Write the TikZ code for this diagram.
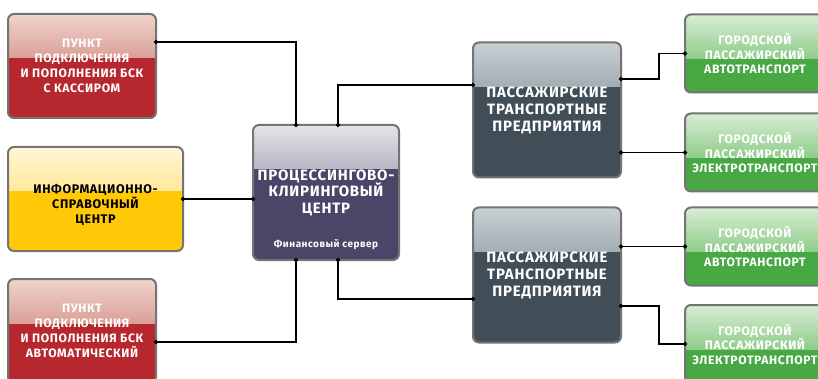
\documentclass[tikz,border=0pt]{standalone}
\usepackage{fontspec}
\setmainfont{Fira Sans}
\newfontfamily\bx{Fira Sans Bold}[LetterSpace=5]
\usetikzlibrary{arrows.meta,calc}
\definecolor{bordergray}{HTML}{747474}
\definecolor{redtop}{HTML}{EFD4CC}\definecolor{redmid}{HTML}{BE5850}\definecolor{redbase}{HTML}{B7272E}
\definecolor{yeltop}{HTML}{FFF6D6}\definecolor{yelmid}{HTML}{FFD546}\definecolor{yelbase}{HTML}{FFC907}
\definecolor{cbtop}{HTML}{E4E4EA}\definecolor{cbmid}{HTML}{5A5676}\definecolor{cbbase}{HTML}{4B4668}
\definecolor{pttop}{HTML}{C8D0D4}\definecolor{ptmid}{HTML}{56646C}\definecolor{ptbase}{HTML}{414E57}
\definecolor{grtop}{HTML}{D8EDD4}\definecolor{grmid}{HTML}{57B251}\definecolor{grbase}{HTML}{48A844}
\tikzset{
  gloss/.style n args={3}{draw=bordergray, line width=2pt, rounded corners=6pt,
    inner sep=0pt, outer sep=0pt, align=center, fill=#3,
    path picture={\shade[sharp corners, top color=#1, bottom color=#2]
      (path picture bounding box.north west) rectangle
      ([yshift=-44pt]path picture bounding box.north east);}},
  redbox/.style={gloss={redtop}{redmid}{redbase}, text=white,
    font=\bx\fontsize{12.2}{15}\selectfont, minimum width=148pt, minimum height=104pt},
  yelbox/.style={gloss={yeltop}{yelmid}{yelbase}, minimum width=175pt, minimum height=104pt},
  cbox/.style={gloss={cbtop}{cbmid}{cbbase}, text=white,
    font=\bx\fontsize{15}{16.5}\selectfont, minimum width=146pt, minimum height=135pt},
  ptbox/.style={gloss={pttop}{ptmid}{ptbase}, text=white,
    font=\bx\fontsize{15}{17}\selectfont, minimum width=148pt, minimum height=135pt},
  grbox/.style={gloss={grtop}{grmid}{grbase}, text=white,
    font=\bx\fontsize{12.2}{14.5}\selectfont, minimum width=140pt, minimum height=78pt},
  txt/.style={inner sep=0pt, align=center},
  link/.style={line width=1.3pt, {Circle[length=4pt]}-{Circle[length=4pt]},
    shorten <=-2pt, shorten >=-2pt},
}
\begin{document}
\begin{tikzpicture}[x=1pt,y=-1pt]
\path[use as bounding box, clip] (0,0) rectangle (818,379);
\fill[white] (0,0) rectangle (818,379);
% boxes
\node[redbox] (r1) at (82,66) {ПУНКТ\\ПОДКЛЮЧЕНИЯ\\И ПОПОЛНЕНИЯ БСК\\С КАССИРОМ};
\node[yelbox] (y1) at (95.5,199) {};
\node[txt, text=black, font=\bx\fontsize{12.5}{15}\selectfont] (y1t) at (95.5,205)
  {ИНФОРМАЦИОННО-\\СПРАВОЧНЫЙ\\ЦЕНТР};
\node[redbox] (r2) at (82,331) {ПУНКТ\\ПОДКЛЮЧЕНИЯ\\И ПОПОЛНЕНИЯ БСК\\АВТОМАТИЧЕСКИЙ};
\node[cbox] (c) at (326,192.5) {ПРОЦЕССИНГОВО-\\КЛИРИНГОВЫЙ\\ЦЕНТР};
\node[txt, text=white, font=\bx\fontsize{10}{11}\selectfont] (csub) at (326,245) {Финансовый сервер};
\node[ptbox] (p1) at (547,110) {ПАССАЖИРСКИЕ\\ТРАНСПОРТНЫЕ\\ПРЕДПРИЯТИЯ};
\node[ptbox] (p2) at (547,275) {ПАССАЖИРСКИЕ\\ТРАНСПОРТНЫЕ\\ПРЕДПРИЯТИЯ};
\node[grbox] (g1) at (755,53.5) {ГОРОДСКОЙ\\ПАССАЖИРСКИЙ\\АВТОТРАНСПОРТ};
\node[grbox] (g2) at (755,152.5) {ГОРОДСКОЙ\\ПАССАЖИРСКИЙ\\ЭЛЕКТРОТРАНСПОРТ};
\node[grbox] (g3) at (755,246.5) {ГОРОДСКОЙ\\ПАССАЖИРСКИЙ\\АВТОТРАНСПОРТ};
\node[grbox] (g4) at (755,344) {ГОРОДСКОЙ\\ПАССАЖИРСКИЙ\\ЭЛЕКТРОТРАНСПОРТ};
% connectors
\draw[link] ([yshift=24pt]r1.east) -| ([xshift=-30pt]c.north);
\draw[link] ([xshift=12pt]c.north) |- ([yshift=25pt]p1.west);
\draw[link] (y1.east) -- (y1.east -| c.west);
\draw[link] ([yshift=-11pt]r2.east) -| ([xshift=-30pt]c.south);
\draw[link] ([xshift=12pt]c.south) |- ([yshift=-24pt]p2.west);
\draw[link] ([yshift=31pt]p1.east) -- ++(38,0) |- (g1.west);
\draw[link] (p1.east |- g2.west) -- (g2.west);
\draw[link] (p2.east |- g3.west) -- (g3.west);
\draw[link] ([yshift=-31pt]p2.east) -- ++(38,0) |- (g4.west);
\end{tikzpicture}
\end{document}
